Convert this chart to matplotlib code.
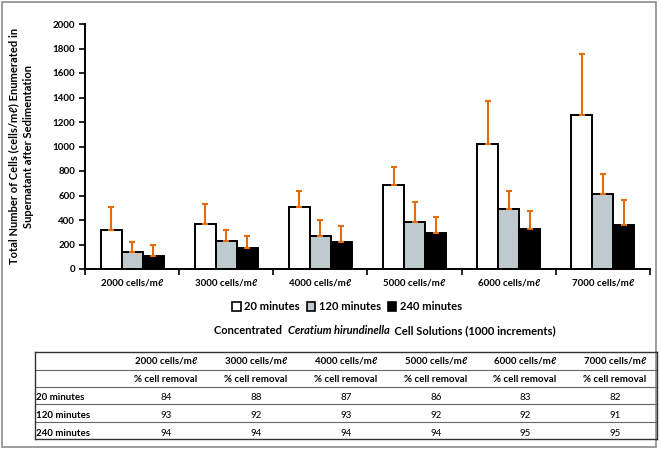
import matplotlib
matplotlib.use("Agg")
import matplotlib.pyplot as plt
from matplotlib.patches import Patch, Rectangle
from matplotlib.lines import Line2D
import numpy as np

plt.rcParams['font.family'] = ['Lato', 'DejaVu Sans']

# data
groups = ["2000 cells/mℓ", "3000 cells/mℓ", "4000 cells/mℓ",
          "5000 cells/mℓ", "6000 cells/mℓ", "7000 cells/mℓ"]
series = ["20 minutes", "120 minutes", "240 minutes"]
min20 = [315, 367, 508, 688, 1017, 1259]
min20_err = [188, 161, 131, 144, 354, 495]
min120 = [141, 226, 271, 380, 490, 612]
min120_err = [77, 95, 126, 169, 143, 166]
min240 = [109, 174, 223, 290, 323, 356]
min240_err = [84, 98, 130, 134, 147, 209]

# table of % cell removal
removal20 = [84, 88, 87, 86, 83, 82]
removal120 = [93, 92, 93, 92, 92, 91]
removal240 = [94, 94, 94, 94, 95, 95]

W, H = 661, 449
fig = plt.figure(figsize=(W / 100, H / 100), dpi=100)

def fx(px):
    return px / W

def fy(py):
    return 1 - py / H

ax = fig.add_axes([fx(85), fy(269), fx(650) - fx(85), fy(24) - fy(269)])

x = np.arange(len(groups))
bw = 0.223
vals = [min20, min120, min240]
errs = [min20_err, min120_err, min240_err]
colors = ["white", "#BFCACE", "black"]
for k in range(3):
    xs = x + (k - 1) * bw
    ax.bar(xs, vals[k], bw, color=colors[k], edgecolor="black", linewidth=1.4, zorder=2)
    ax.errorbar(xs, vals[k], yerr=[np.zeros(len(groups)), errs[k]], fmt="none",
                ecolor="#E46C0A", elinewidth=1.5, capsize=2, capthick=1.5, zorder=3)

ax.set_xlim(-0.5, len(groups) - 0.5)
ax.set_ylim(0, 2000)
ax.set_yticks(np.arange(0, 2001, 200))
ax.set_xticks(np.arange(-0.5, len(groups), 1.0))
ax.set_xticklabels([])
ax.set_xticks(x, minor=True)
ax.set_xticklabels(groups, minor=True, fontsize=7, fontweight="bold")
ax.tick_params(axis="x", which="minor", length=0, pad=7)
ax.tick_params(axis="x", which="major", length=4, width=1.2, direction="out")
ax.tick_params(axis="y", length=4, width=1.2, direction="out", labelsize=7, pad=3)
for lab in ax.get_yticklabels():
    lab.set_fontweight("bold")
ax.spines["top"].set_visible(False)
ax.spines["right"].set_visible(False)
ax.spines["left"].set_linewidth(1.4)
ax.spines["bottom"].set_linewidth(1.4)

# y label, two lines
fig.text(fx(21), fy(146), "Total Number of Cells (cells/mℓ) Enumerated in\nSupernatant after Sedimentation",
         rotation=90, ha="center", va="center", fontsize=8, fontweight="bold", linespacing=1.5)

# legend
handles = [Patch(facecolor=c, edgecolor="black", linewidth=1.2) for c in colors]
fig.legend(handles, series, loc="center", bbox_to_anchor=(fx(347), fy(307)), ncol=3,
           frameon=False, fontsize=8, handlelength=0.8, handleheight=0.8,
           handletextpad=0.3, columnspacing=0.6, prop={"weight": "bold", "size": 8})

# x label with italic species name
pieces = [("Concentrated  ", "normal"), ("Ceratium hirundinella", "italic"),
          ("  Cell Solutions (1000 increments)", "normal")]
renderer = fig.canvas.get_renderer()
widths = []
for s, st in pieces:
    t = fig.text(0, 0, s, fontsize=8, fontweight="bold", style=st)
    widths.append(t.get_window_extent(renderer).width)
    t.remove()
xpos = 385 - sum(widths) / 2
for (s, st), wd in zip(pieces, widths):
    fig.text(fx(xpos), fy(331), s, fontsize=8, fontweight="bold", style=st, va="center", ha="left")
    xpos += wd

# table
tl, tr = 35, 657
row_lines = [352, 369.5, 387, 404, 421.5, 439]
col_x = [166, 256, 346, 436, 525, 615]
for i, yl in enumerate(row_lines):
    edge = i in (0, len(row_lines) - 1)
    fig.add_artist(Line2D([fx(tl), fx(tr)], [fy(yl), fy(yl)], color="#333333" if edge else "#666666",
                          linewidth=1.0 if edge else 0.8))
for xl in (tl, tr):
    fig.add_artist(Line2D([fx(xl), fx(xl)], [fy(row_lines[0]), fy(row_lines[-1])], color="#333333", linewidth=1.0))

for c, g in zip(col_x, groups):
    fig.text(fx(c), fy(361), g, ha="center", va="center", fontsize=7, fontweight="bold")
    fig.text(fx(c), fy(380), "% cell removal", ha="center", va="center", fontsize=7, fontweight="bold")

table_rows = [removal20, removal120, removal240]
row_y = [398, 415.5, 433]
for name, row, yy in zip(series, table_rows, row_y):
    fig.text(fx(tl + 1), fy(yy), name, ha="left", va="center", fontsize=7, fontweight="bold")
    for c, v in zip(col_x, row):
        fig.text(fx(c), fy(yy), str(v), ha="center", va="center", fontsize=7)

# outer frame
fig.add_artist(Rectangle((fx(2), fy(447)), fx(656) - fx(2), fy(2) - fy(447), fill=False,
                         edgecolor="#8C8C8C", linewidth=1.2))

fig.savefig("out.png", dpi=100)
